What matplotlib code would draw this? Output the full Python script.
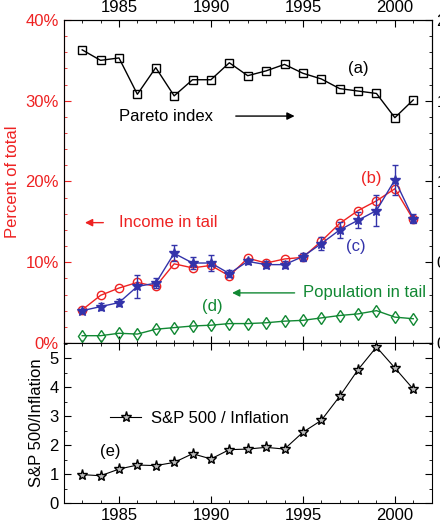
import matplotlib
matplotlib.use("Agg")
import matplotlib.pyplot as plt
from matplotlib.ticker import MultipleLocator, FuncFormatter

years = list(range(1983, 2002))
pareto = [1.815,1.75,1.765,1.54,1.705,1.53,1.63,1.63,1.735,1.655,1.685,1.725,1.67,1.635,1.575,1.56,1.545,1.395,1.505]
income = [4.1,5.9,6.8,7.5,7.0,9.8,9.3,9.6,8.3,10.5,9.9,10.4,10.6,12.6,14.8,16.4,17.6,19.1,15.3]
income_c = [4.0,4.5,5.0,7.0,7.4,11.1,9.9,9.9,8.6,10.1,9.7,9.7,10.7,12.3,14.0,15.2,16.4,20.2,15.4]
income_c_err = [0.2,0.4,0.4,1.4,0.6,1.0,0.7,1.0,0.4,0.3,0.4,0.4,0.5,0.8,1.0,1.0,1.9,1.9,0.6]
population = [0.9,0.9,1.2,1.1,1.7,1.9,2.1,2.2,2.4,2.4,2.5,2.7,2.8,3.1,3.4,3.6,4.0,3.2,3.0]
sp500 = [0.98,0.94,1.17,1.31,1.29,1.40,1.70,1.52,1.84,1.86,1.92,1.86,2.44,2.85,3.68,4.60,5.38,4.66,3.93]

plt.rcParams['font.family'] = ['Liberation Sans', 'DejaVu Sans']
plt.rcParams['font.size'] = 11
red = '#ee2222'; blue = '#3333aa'; green = '#118833'

fig = plt.figure(figsize=(4.4, 5.26), dpi=100)
ax = fig.add_axes([0.145, 0.348, 0.836, 0.614])
ax.set_xlim(1982, 2002)
ax.set_ylim(0, 40)
ax.plot(years, income, '-o', color=red, mfc='none', ms=6, lw=1)
ax.errorbar(years, income_c, yerr=income_c_err, fmt='-*', color=blue, ms=7, lw=1, capsize=2, elinewidth=1, mfc=blue)
ax.plot(years, population, '-d', color=green, mfc='none', ms=6, lw=1)
ax.yaxis.set_major_locator(MultipleLocator(10))
ax.yaxis.set_minor_locator(MultipleLocator(2))
ax.yaxis.set_major_formatter(FuncFormatter(lambda v, p: f"{int(v)}%"))
ax.tick_params(axis='y', colors=red, labelcolor=red, which='both', direction='in', labelsize=12)
ax.spines['left'].set_color(red)
ax.set_ylabel('Percent of total', color=red, fontsize=12)
ax.xaxis.tick_top()
ax.xaxis.set_major_locator(MultipleLocator(5))
ax.xaxis.set_minor_locator(MultipleLocator(1))
ax.tick_params(axis='x', which='both', direction='in', labelsize=12, top=True, bottom=True, labelbottom=False, labeltop=True)
ax.tick_params(which='major', length=5)
ax.tick_params(which='minor', length=2.5)

ax2 = ax.twinx()
ax2.set_ylim(0, 2)
ax2.plot(years, pareto, '-s', color='black', mfc='none', ms=6, lw=1)
ax2.yaxis.set_major_locator(MultipleLocator(0.5))
ax2.yaxis.set_minor_locator(MultipleLocator(0.1))
ax2.yaxis.set_major_formatter(FuncFormatter(lambda v, p: f"{v:g}"))
ax2.tick_params(axis='y', which='both', direction='in', labelsize=12)
ax2.tick_params(which='major', length=5)
ax2.tick_params(which='minor', length=2.5)

kw = dict(fontsize=12, ha='center', va='center')
ax.text(1998.0, 34.0, '(a)', **kw)
ax.text(1985.0, 28.1, 'Pareto index', fontsize=12, ha='left', va='center')
ax.annotate('', xy=(1994.7, 28.1), xytext=(1991.2, 28.1), arrowprops=dict(arrowstyle='-|>', color='black', lw=1))
ax.text(1998.7, 20.4, '(b)', color=red, **kw)
ax.text(1985.0, 14.9, 'Income in tail', color=red, fontsize=12, ha='left', va='center')
ax.annotate('', xy=(1983.0, 14.9), xytext=(1984.3, 14.9), arrowprops=dict(arrowstyle='-|>', color=red, lw=1))
ax.text(1997.9, 11.9, '(c)', color=blue, **kw)
ax.text(1995.0, 6.2, 'Population in tail', color=green, fontsize=12, ha='left', va='center')
ax.annotate('', xy=(1991.0, 6.2), xytext=(1994.7, 6.2), arrowprops=dict(arrowstyle='-|>', color=green, lw=1))
ax.text(1990.05, 4.5, '(d)', color=green, **kw)

bx = fig.add_axes([0.145, 0.0437, 0.836, 0.3043])
bx.set_xlim(1982, 2002)
bx.set_ylim(0, 5.52)
bx.plot(years, sp500, '-*', color='black', mfc='#bbbbbb', ms=8, lw=0.8, label='S&P 500 / Inflation')
bx.yaxis.set_major_locator(MultipleLocator(1))
bx.yaxis.set_minor_locator(MultipleLocator(0.5))
bx.xaxis.set_major_locator(MultipleLocator(5))
bx.xaxis.set_minor_locator(MultipleLocator(1))
bx.tick_params(which='both', direction='in', right=True, top=True, labelsize=12)
bx.tick_params(which='major', length=5)
bx.tick_params(which='minor', length=2.5)
bx.set_ylabel('S&P 500/Inflation', fontsize=12)
bx.legend(loc='center left', bbox_to_anchor=(0.125, 0.53), frameon=False, fontsize=12,
          handlelength=1.9, handletextpad=0.6, borderpad=0, borderaxespad=0)
bx.text(1984.55, 1.79, '(e)', **kw)

fig.savefig('out.png', dpi=100)
